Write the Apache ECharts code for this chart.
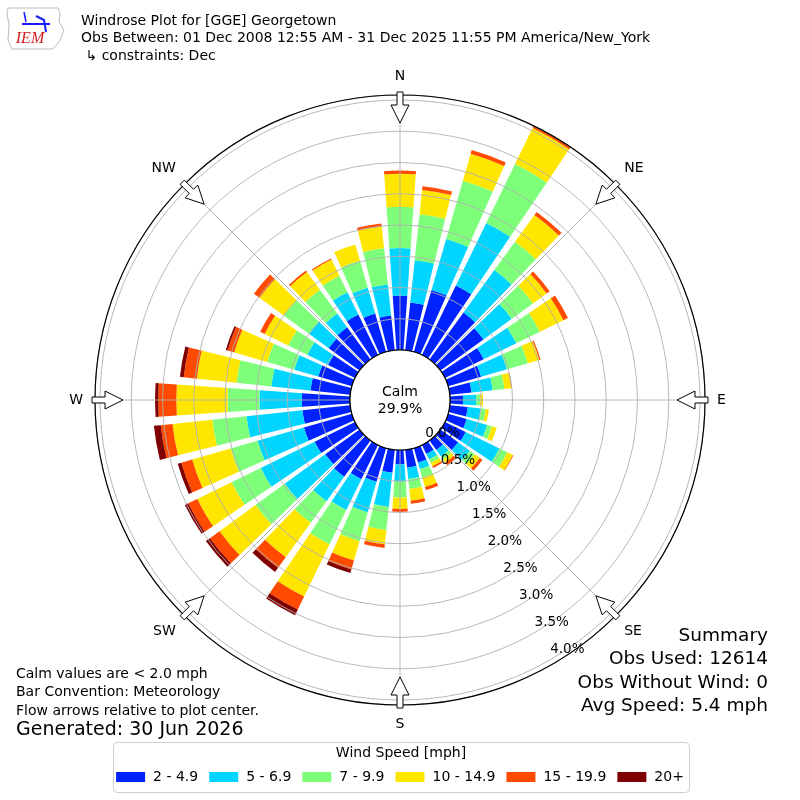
<!DOCTYPE html>
<html><head><meta charset="utf-8">
<script src="https://cdn.jsdelivr.net/npm/echarts@6/dist/echarts.min.js"></script>
<style>html,body{margin:0;padding:0;background:#fff}#c{width:800px;height:800px}</style>
</head><body><div id="c"></div>
<script>
// ---- data (percent of observations) ----
const directions = [0,10,20,30,40,50,60,70,80,90,100,110,120,130,140,150,160,170,180,190,200,210,220,230,240,250,260,270,280,290,300,310,320,330,340,350];
const speedBins = ['2 - 4.9','5 - 6.9','7 - 9.9','10 - 14.9','15 - 19.9','20+'];
const binColors = ['#0022ff','#00d4ff','#7dff7a','#ffe600','#ff4a00','#7f0000'];
const spd2to5   = [0.87,0.77,1.03,1.24,0.93,0.85,0.69,0.55,0.35,0.21,0.29,0.31,0.37,0.35,0.19,0.16,0.24,0.29,0.23,0.37,0.56,0.61,0.72,0.68,0.72,0.80,0.77,0.77,0.64,0.56,0.48,0.61,0.64,0.72,0.64,0.56];
const spd5to7   = [0.76,0.68,0.85,1.11,0.84,0.56,0.58,0.43,0.34,0.21,0.21,0.34,0.60,0.23,0.13,0.10,0.11,0.18,0.27,0.55,0.51,0.55,0.48,0.80,0.96,0.77,0.90,0.68,0.63,0.40,0.37,0.39,0.27,0.40,0.43,0.50];
const spd7to10  = [0.66,0.74,0.97,1.05,0.56,0.42,0.42,0.35,0.19,0.06,0.08,0.08,0.14,0.10,0.06,0.06,0.14,0.16,0.26,0.37,0.48,0.61,0.43,0.58,0.52,0.45,0.55,0.51,0.56,0.45,0.34,0.50,0.47,0.29,0.45,0.58];
const spd10to15 = [0.53,0.39,0.45,0.64,0.53,0.27,0.42,0.19,0.11,0.05,0.05,0.08,0.10,0.10,0.06,0.06,0.16,0.19,0.18,0.23,0.32,0.93,0.68,0.71,0.61,0.64,0.64,0.82,0.64,0.55,0.42,0.48,0.35,0.29,0.27,0.35];
const spd15to20 = [0.05,0.06,0.06,0.05,0.06,0.06,0.08,0.02,0.01,0,0,0,0.01,0.05,0.05,0.03,0.05,0.05,0.05,0.06,0.15,0.23,0.21,0.19,0.16,0.18,0.19,0.29,0.21,0.11,0.08,0.11,0.03,0.02,0,0.05];
const spd20plus = [0,0,0,0,0,0,0,0,0,0,0,0,0,0,0,0,0,0,0,0,0.06,0.10,0.08,0.08,0.06,0.06,0.11,0.05,0.06,0.03,0,0,0,0,0,0];
const seriesValues = [spd2to5, spd5to7, spd7to10, spd10to15, spd15to20, spd20plus];
const compassLabels = ['N','NE','E','SE','S','SW','W','NW'];
const radialTickValues = [0,0.5,1,1.5,2,2.5,3,3.5,4];
const radialTickLabels = ['0.0%','0.5%','1.0%','1.5%','2.0%','2.5%','3.0%','3.5%','4.0%'];
const calmPct = '29.9%';
const titleLines = ['Windrose Plot for [GGE] Georgetown','Obs Between: 01 Dec 2008 12:55 AM - 31 Dec 2025 11:55 PM America/New_York',' \u21B3 constraints: Dec'];
const summaryLines = ['Summary','Obs Used: 12614','Obs Without Wind: 0','Avg Speed: 5.4 mph'];
const noteLines = ['Calm values are < 2.0 mph','Bar Convention: Meteorology','Flow arrows relative to plot center.'];
const generatedLine = 'Generated: 30 Jun 2026';

// ---- layout ----
const CX = 400, CY = 400, R0 = 50, R1 = 305, RMAX = 4.08;
const FONT = '"DejaVu Sans", sans-serif';

function txt(x, y, text, size, align) {
  return {
    type: 'text', x: x, y: y, z: 20,
    style: { text: text, font: size + 'px ' + FONT, fill: '#000',
      align: align, textAlign: align, verticalAlign: 'middle', textVerticalAlign: 'middle' }
  };
}

const graphics = [];
// compass arrows
[0,45,90,135,180,225,270,315].forEach(b => {
  const t = b * Math.PI / 180;
  const u = [Math.sin(t), -Math.cos(t)], w = [Math.cos(t), Math.sin(t)];
  const P = (r, s) => [CX + r*u[0] + s*w[0], CY + r*u[1] + s*w[1]];
  graphics.push({ type: 'polygon', z: 30,
    shape: { points: [P(308,-3),P(308,3),P(295,3),P(295,9),P(277,0),P(295,-9),P(295,-3)] },
    style: { fill: '#fff', stroke: '#000', lineWidth: 1 } });
});
// calm circle
graphics.push({ type: 'circle', z: 15, shape: { cx: CX, cy: CY, r: R0 }, style: { fill: '#fff', stroke: '#000', lineWidth: 1.2 } });
graphics.push(txt(CX, CY - 8, 'Calm', 14, 'center'));
graphics.push(txt(CX, CY + 9, calmPct, 14, 'center'));
// titles
titleLines.forEach((l, i) => graphics.push(txt(81, 21 + i * 17.5, l, 14, 'left')));
summaryLines.forEach((l, i) => graphics.push(txt(768, 636 + i * 23.5, l, 18.5, 'right')));
noteLines.forEach((l, i) => graphics.push(txt(16, 674 + i * 18.5, l, 14, 'left')));
graphics.push(txt(16, 730, generatedLine, 19, 'left'));
// legend box + title
graphics.push({ type: 'rect', z: 1, shape: { x: 113.5, y: 742.5, width: 576, height: 50, r: 4 }, style: { fill: '#fff', stroke: '#cfcfcf', lineWidth: 1 } });
graphics.push(txt(401, 753, 'Wind Speed [mph]', 14, 'center'));
// IEM logo (approximation)
graphics.push({ type: 'polyline', z: 20, shape: { points: [[8,8],[58,8],[60,14],[59,22],[64,30],[60,40],[56,46],[52,49],[12,49],[8,40],[9,24],[7,14],[8,8]] }, style: { stroke: '#bbb', fill: null, lineWidth: 1 } });
graphics.push({ type: 'polyline', z: 21, shape: { points: [[22,24],[50,24]] }, style: { stroke: '#1a1aff', lineWidth: 2 } });
graphics.push({ type: 'polyline', z: 21, shape: { points: [[24,12],[26,22]] }, style: { stroke: '#1a1aff', lineWidth: 1.5 } });
graphics.push({ type: 'polyline', z: 21, shape: { points: [[36,16],[44,20],[46,32]] }, style: { stroke: '#1a1aff', lineWidth: 2 } });
const logoText = txt(30, 39, 'IEM', 16, 'center');
logoText.style.font = 'italic 16px "Liberation Serif", serif';
logoText.style.fill = '#d42020';
graphics.push(logoText);

const series = speedBins.map((name, i) => ({
  name: name, type: 'bar', coordinateSystem: 'polar', polarIndex: 0, stack: 'wind',
  data: seriesValues[i], barCategoryGap: '20%', itemStyle: { color: binColors[i] }, z: 2,
  silent: true
}));

const chart = echarts.init(document.getElementById('c'), null, { renderer: 'canvas' });
chart.setOption({
  animation: false,
  backgroundColor: '#fff',
  textStyle: { fontFamily: FONT },
  polar: [
    { center: [CX, CY], radius: [R0, R1] },
    { center: [CX, CY], radius: [R0, R1] },
    { center: [CX, CY], radius: [R0, R1] }
  ],
  angleAxis: [
    { polarIndex: 0, type: 'category', data: directions, startAngle: 95, clockwise: true, show: false },
    { polarIndex: 1, type: 'value', min: 0, max: 360, interval: 45, startAngle: 90, clockwise: true, z: 5,
      axisLine: { show: true, lineStyle: { color: '#000', width: 1.2 } },
      axisTick: { show: false },
      splitLine: { show: true, lineStyle: { color: '#b0b0b0', width: 0.9 } },
      axisLabel: { show: true, margin: 12, fontSize: 14, color: '#000', fontFamily: FONT,
        formatter: v => compassLabels[Math.round(v / 45)] && v < 360 ? compassLabels[Math.round(v / 45)] : '' } },
    { polarIndex: 2, type: 'value', min: 0, max: 360, startAngle: -60, clockwise: true, show: false }
  ],
  radiusAxis: [
    { polarIndex: 0, type: 'value', min: 0, max: RMAX, show: false },
    { polarIndex: 1, type: 'value', min: 0, max: RMAX, interval: 0.5, z: 5,
      axisLine: { show: false }, axisTick: { show: false }, axisLabel: { show: false },
      splitLine: { show: true, lineStyle: { color: '#b0b0b0', width: 0.9 } } },
    { polarIndex: 2, type: 'value', min: 0, max: RMAX, interval: 0.5, z: 25,
      axisLine: { show: false }, axisTick: { show: false }, splitLine: { show: false },
      axisLabel: { show: true, margin: 20, fontSize: 13.5, color: '#000', fontFamily: FONT,
        align: 'center', verticalAlign: 'middle',
        formatter: v => {
          const k = radialTickValues.findIndex(t => Math.abs(t - v) < 1e-6);
          return k >= 0 ? radialTickLabels[k] : '';
        } } }
  ],
  legend: {
    data: speedBins, left: 'center', top: 765, icon: 'rect', itemWidth: 29, itemHeight: 10, itemGap: 11,
    selectedMode: false, z: 10,
    textStyle: { fontSize: 14, color: '#000', fontFamily: FONT, padding: [0, 0, 0, 3] }
  },
  graphic: { elements: graphics },
  series: series
});
</script></body></html>
